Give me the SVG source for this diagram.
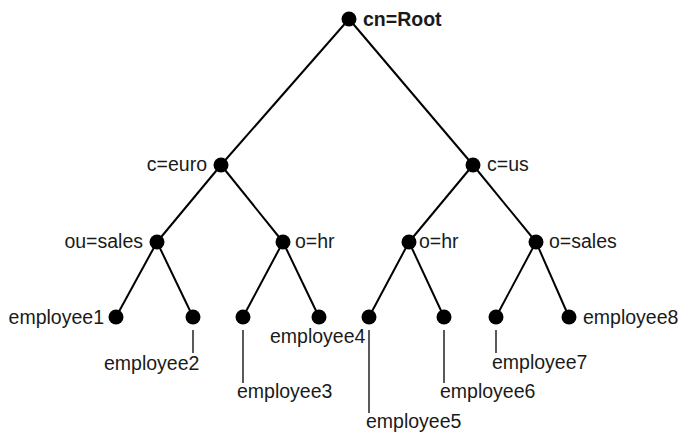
<svg xmlns="http://www.w3.org/2000/svg" width="679" height="433" viewBox="0 0 679 433">
<style>
.bg{fill:#ffffff}
.edge{stroke:#000;stroke-width:2;fill:none}
.lead{stroke:#000;stroke-width:1.3;fill:none}
.dot{fill:#000}
text{font-family:"Liberation Sans",Arial,sans-serif;font-size:19.5px;fill:#1a1a1a}
.bold{font-weight:bold}
.end{text-anchor:end}
</style>
<rect class="bg" x="0" y="0" width="679" height="433"/>
<g id="connectors">
<line class="edge" x1="349" y1="19" x2="221" y2="165"/>
<line class="edge" x1="349" y1="19" x2="473" y2="165"/>
<line class="edge" x1="221" y1="165" x2="157" y2="242"/>
<line class="edge" x1="221" y1="165" x2="283" y2="242"/>
<line class="edge" x1="473" y1="165" x2="409" y2="242"/>
<line class="edge" x1="473" y1="165" x2="536" y2="242"/>
<line class="edge" x1="157" y1="242" x2="116" y2="317"/>
<line class="edge" x1="157" y1="242" x2="193" y2="317"/>
<line class="edge" x1="283" y1="242" x2="243" y2="317"/>
<line class="edge" x1="283" y1="242" x2="319" y2="317"/>
<line class="edge" x1="409" y1="242" x2="369" y2="317"/>
<line class="edge" x1="409" y1="242" x2="444" y2="317"/>
<line class="edge" x1="536" y1="242" x2="496" y2="317"/>
<line class="edge" x1="536" y1="242" x2="569" y2="317"/>
<line class="lead" x1="193" y1="330" x2="193" y2="353"/>
<line class="lead" x1="243" y1="330" x2="243" y2="383"/>
<line class="lead" x1="369" y1="330" x2="369" y2="413"/>
<line class="lead" x1="444" y1="330" x2="444" y2="383"/>
<line class="lead" x1="496" y1="330" x2="496" y2="353"/>
</g>
<g id="root"><circle class="dot" cx="349" cy="19" r="7.5"/><text class="bold" x="363" y="26">cn=Root</text></g>
<g id="c-euro"><circle class="dot" cx="221" cy="165" r="7.5"/><text class="end" x="207" y="171">c=euro</text></g>
<g id="c-us"><circle class="dot" cx="473" cy="165" r="7.5"/><text x="487" y="171">c=us</text></g>
<g id="ou-sales"><circle class="dot" cx="157" cy="242" r="7.5"/><text class="end" x="143" y="248">ou=sales</text></g>
<g id="euro-o-hr"><circle class="dot" cx="283" cy="242" r="7.5"/><text x="295" y="248">o=hr</text></g>
<g id="us-o-hr"><circle class="dot" cx="409" cy="242" r="7.5"/><text x="419" y="248">o=hr</text></g>
<g id="o-sales"><circle class="dot" cx="536" cy="242" r="7.5"/><text x="549" y="248">o=sales</text></g>
<g id="employee1"><circle class="dot" cx="116" cy="317" r="7.5"/><text class="end" x="104" y="324">employee1</text></g>
<g id="employee2"><circle class="dot" cx="193" cy="317" r="7.5"/><text x="104" y="370">employee2</text></g>
<g id="employee3"><circle class="dot" cx="243" cy="317" r="7.5"/><text x="237" y="398">employee3</text></g>
<g id="employee4"><circle class="dot" cx="319" cy="317" r="7.5"/><text x="270" y="343">employee4</text></g>
<g id="employee5"><circle class="dot" cx="369" cy="317" r="7.5"/><text x="366" y="428">employee5</text></g>
<g id="employee6"><circle class="dot" cx="444" cy="317" r="7.5"/><text x="440" y="398">employee6</text></g>
<g id="employee7"><circle class="dot" cx="496" cy="317" r="7.5"/><text x="492" y="369">employee7</text></g>
<g id="employee8"><circle class="dot" cx="569" cy="317" r="7.5"/><text x="583" y="324">employee8</text></g>
</svg>
